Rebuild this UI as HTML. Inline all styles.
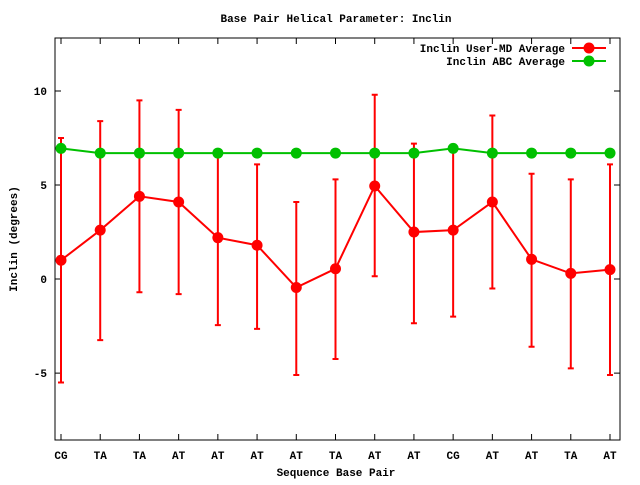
<!DOCTYPE html>
<html><head><meta charset="utf-8"><style>
body{margin:0;background:#fff}
svg text{font-family:"Liberation Mono","DejaVu Sans Mono",monospace;font-size:11px;font-weight:bold;fill:#000}
</style></head><body>
<svg id="chart" width="640" height="480" xmlns="http://www.w3.org/2000/svg">
<rect width="640" height="480" fill="#fff"/>
<text x="336" y="22" text-anchor="middle">Base Pair Helical Parameter: Inclin</text>
<text x="336" y="476" text-anchor="middle">Sequence Base Pair</text>
<text transform="translate(17,239) rotate(-90)" text-anchor="middle">Inclin (degrees)</text>
<g id="axes"></g>
<g id="series"></g>
<g id="legend"></g>
</svg>
<script>
const categories = ["CG","TA","TA","AT","AT","AT","AT","TA","AT","AT","CG","AT","AT","TA","AT"];
const mdAvg = [1.0,2.6,4.4,4.1,2.2,1.8,-0.45,0.55,4.95,2.5,2.6,4.1,1.05,0.3,0.5];
const mdHigh = [7.5,8.4,9.5,9.0,6.6,6.1,4.1,5.3,9.8,7.2,6.9,8.7,5.6,5.3,6.1];
const mdLow = [-5.5,-3.25,-0.7,-0.8,-2.45,-2.65,-5.1,-4.25,0.15,-2.35,-2.0,-0.5,-3.6,-4.75,-5.1];
const abcAvg = [6.95,6.7,6.7,6.7,6.7,6.7,6.7,6.7,6.7,6.7,6.95,6.7,6.7,6.7,6.7];
const yTicks = [-5,0,5,10];
const L=55,R=620,T=38,B=440;
const yMin=-8.56,yMax=12.82;
const y=v=>B-(v-yMin)/(yMax-yMin)*(B-T);
const x=i=>61+i*(610-61)/(categories.length-1);
const NS="http://www.w3.org/2000/svg";
function mk(tag,attrs,parent){const e=document.createElementNS(NS,tag);for(const k in attrs)e.setAttribute(k,attrs[k]);parent.appendChild(e);return e;}
const ax=document.getElementById('axes');
const frame=mk('rect',{x:L,y:T,width:R-L,height:B-T,fill:'none',stroke:'#000','stroke-width':1},ax);


yTicks.forEach(v=>{
  const p=mk('path',{d:`M${L} ${y(v)}h6M${R} ${y(v)}h-6`,stroke:'#000'},ax);
  
  
  const t=mk('text',{x:L-8,y:y(v)+4,'text-anchor':'end'},ax);t.textContent=v;
  
  
});
categories.forEach((c,i)=>{
  const p=mk('path',{d:`M${x(i)} ${B}v-6M${x(i)} ${T}v6`,stroke:'#000'},ax);
  
  
  const t=mk('text',{x:x(i),y:B+19,'text-anchor':'middle'},ax);t.textContent=c;
  
  
});
const s=document.getElementById('series');
const red='#ff0000',green='#00c000';
categories.forEach((c,i)=>{
  const e=mk('path',{d:`M${x(i)} ${y(mdHigh[i])}V${y(mdLow[i])}M${x(i)-3} ${y(mdHigh[i])}h6M${x(i)-3} ${y(mdLow[i])}h6`,stroke:red,'stroke-width':2,fill:'none'},s);
  
  
});
function line(vals,col,name){
  const pl=mk('polyline',{points:vals.map((v,i)=>x(i)+','+y(v)).join(' '),fill:'none',stroke:col,'stroke-width':2},s);
  
  
  vals.forEach((v,i)=>{
    const m=mk('circle',{cx:x(i),cy:y(v),r:5.5,fill:col},s);
    
    
  });
}
line(abcAvg,green,'abc-average');
line(mdAvg,red,'user-md-average');
const lg=document.getElementById('legend');
[["Inclin User-MD Average",red,48],["Inclin ABC Average",green,61]].forEach(([lab,col,yy])=>{
  const t=mk('text',{x:565,y:yy+4,'text-anchor':'end'},lg);t.textContent=lab;
  
  
  const l=mk('path',{d:`M572 ${yy}H606`,stroke:col,'stroke-width':2},lg);
  
  
  const m=mk('circle',{cx:589,cy:yy,r:5.5,fill:col},lg);
  
  
});
</script>
</body></html>
